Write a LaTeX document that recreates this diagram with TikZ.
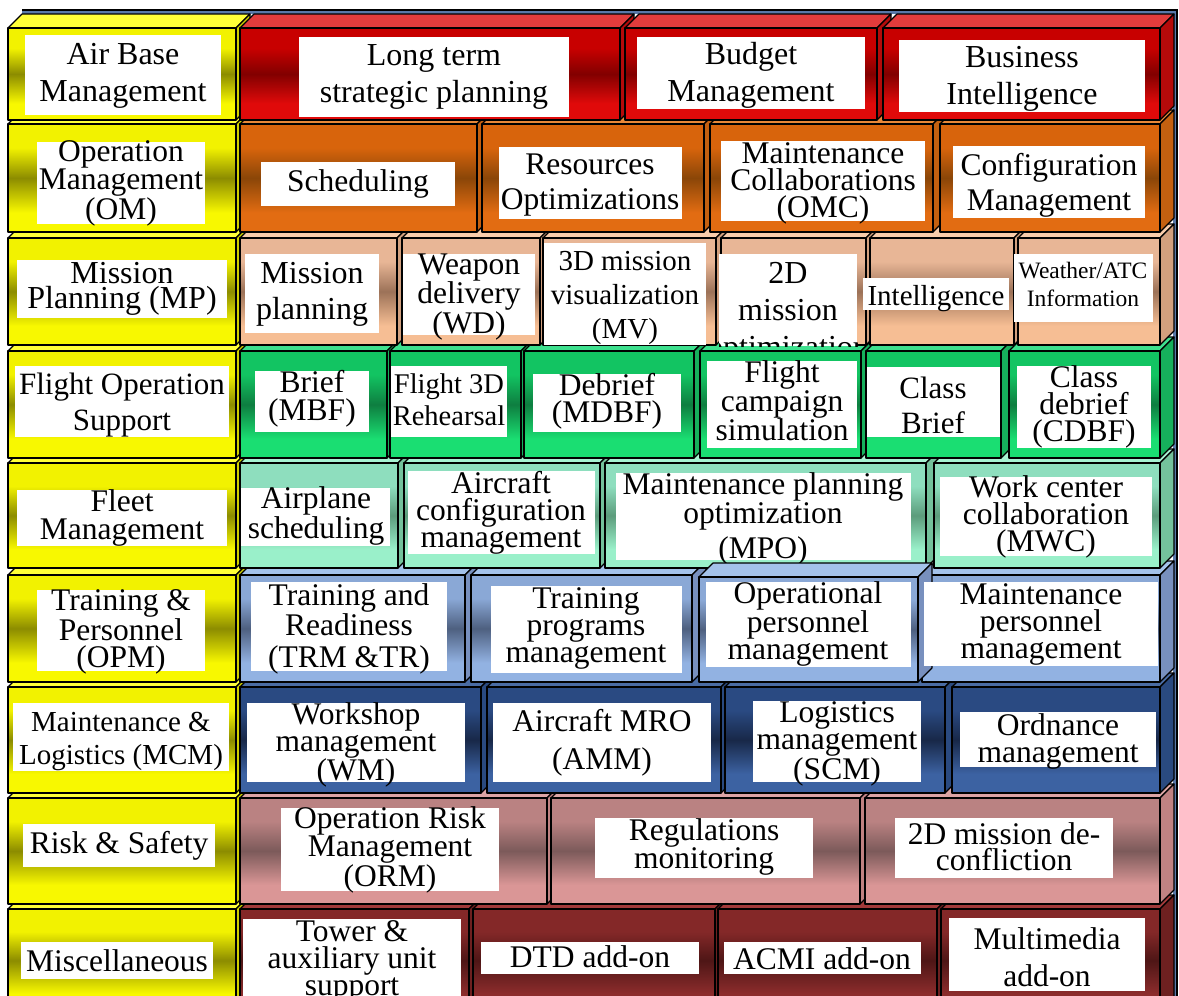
\documentclass[tikz,border=0pt]{standalone}
\usepackage{fontspec}
\setmainfont{Liberation Serif}
\usetikzlibrary{fit}

% ---------- palette: top / middle / bottom of each bevelled front, plus top and side faces
\definecolor{yelT}{HTML}{F2F200}\definecolor{yelM}{HTML}{8C8C00}\definecolor{yelB}{HTML}{F8F800}
\definecolor{yelTop}{HTML}{FFFF38}\definecolor{yelSide}{HTML}{D0D000}
\definecolor{redT}{HTML}{C80000}\definecolor{redM}{HTML}{820000}\definecolor{redB}{HTML}{E00A0A}
\definecolor{redTop}{HTML}{E23C3C}\definecolor{redSide}{HTML}{B50A0A}
\definecolor{orgT}{HTML}{D8640C}\definecolor{orgM}{HTML}{8A4608}\definecolor{orgB}{HTML}{E26C12}
\definecolor{orgTop}{HTML}{E88838}\definecolor{orgSide}{HTML}{C46010}
\definecolor{tanT}{HTML}{E8B696}\definecolor{tanM}{HTML}{9C7258}\definecolor{tanB}{HTML}{F6BE94}
\definecolor{tanTop}{HTML}{F8CCAA}\definecolor{tanSide}{HTML}{D2A07E}
\definecolor{grnT}{HTML}{12C462}\definecolor{grnM}{HTML}{0E7E40}\definecolor{grnB}{HTML}{1ADE72}
\definecolor{grnTop}{HTML}{3EE08E}\definecolor{grnSide}{HTML}{16B05C}
\definecolor{mntT}{HTML}{8EDEBE}\definecolor{mntM}{HTML}{5C9C7C}\definecolor{mntB}{HTML}{9AF0CA}
\definecolor{mntTop}{HTML}{A6F2D2}\definecolor{mntSide}{HTML}{74C29C}
\definecolor{stlT}{HTML}{8AA8D6}\definecolor{stlM}{HTML}{4E6080}\definecolor{stlB}{HTML}{92B2E2}
\definecolor{stlTop}{HTML}{A4C2EA}\definecolor{stlSide}{HTML}{7890BE}
\definecolor{navT}{HTML}{2A4A82}\definecolor{navM}{HTML}{182848}\definecolor{navB}{HTML}{3C62A2}
\definecolor{navTop}{HTML}{4A6CA4}\definecolor{navSide}{HTML}{2A4A80}
\definecolor{rosT}{HTML}{BA8282}\definecolor{rosM}{HTML}{7C5A5A}\definecolor{rosB}{HTML}{DA9696}
\definecolor{rosTop}{HTML}{DCA4A4}\definecolor{rosSide}{HTML}{C08282}
\definecolor{marT}{HTML}{842828}\definecolor{marM}{HTML}{4E1616}\definecolor{marB}{HTML}{8C2C2C}
\definecolor{marTop}{HTML}{A23A3A}\definecolor{marSide}{HTML}{6E2020}
\definecolor{frameblue}{HTML}{5878A8}

% metallic bevel: light at top and bottom, dark band in the middle
\newcommand\bevel[4]{\pgfdeclareverticalshading{#1}{100bp}{%
  color(0bp)=(#4); color(25bp)=(#4); color(34bp)=(#4); color(50bp)=(#3);
  color(64bp)=(#2); color(75bp)=(#2); color(100bp)=(#2)}}
\bevel{shYel}{yelT}{yelM}{yelB}
\bevel{shRed}{redT}{redM}{redB}
\bevel{shOrg}{orgT}{orgM}{orgB}
\bevel{shTan}{tanT}{tanM}{tanB}
\bevel{shGrn}{grnT}{grnM}{grnB}
\bevel{shMnt}{mntT}{mntM}{mntB}
\bevel{shStl}{stlT}{stlM}{stlB}
\bevel{shNav}{navT}{navM}{navB}
\bevel{shRos}{rosT}{rosM}{rosB}
\bevel{shMar}{marT}{marM}{marB}

\tikzset{
  face/.style={draw=black, line width=1.1pt, line join=round},
  frontface/.style={face, shade, inner sep=0pt, outer sep=0pt},
  wbox/.style={fill=white, inner sep=0pt, outer sep=0pt},
  txt/.style={align=center, inner sep=0pt, text=black},
}
\def\bdepth{14}
\newcommand\fz[2]{\fontsize{#1}{#2}\selectfont}

% block: name, x1, y1, x2, y2 (front face), shading, top-face colour, side-face colour
\newcommand\blk[8]{%
  \filldraw[face, fill=#7] (#2,#3) -- (#2+\bdepth,#3-\bdepth) -- (#4+\bdepth,#3-\bdepth) -- (#4,#3) -- cycle;
  \filldraw[face, fill=#8] (#4,#3) -- (#4+\bdepth,#3-\bdepth) -- (#4+\bdepth,#5-\bdepth) -- (#4,#5) -- cycle;
  \node[frontface, shading=#6, fit={(#2,#3) (#4,#5)}] (#1) {};
}
% white label: name, x1, y1, x2, y2, text centre x, y, font, text
\newcommand\lbl[9]{%
  \node[wbox, fit={(#2,#3) (#4,#5)}] (#1) {};
  \node[txt, font=#8] (#1-t) at (#6,#7) {#9};
}
% the same, with the text cut off at the edges of its white box
\newcommand\lblclip[9]{%
  \node[wbox, fit={(#2,#3) (#4,#5)}] (#1) {};
  \begin{scope}
    \clip (#1.north west) rectangle (#1.south east);
    \node[txt, font=#8] (#1-t) at (#6,#7) {#9};
  \end{scope}
}

\begin{document}
\begin{tikzpicture}[x=1pt,y=-1pt]
\fill[white] (0,0) rectangle (1179,996);
\useasboundingbox (0,0) rectangle (1179,996);

% outer frame
\fill[frameblue] (22,10) rectangle (1177,14);
\fill[frameblue] (1173,10) rectangle (1177,996);
\draw[line width=1.2pt] (22,10) -- (1177,10) -- (1177,996);

% rows are stacked from the bottom up so that each row hides the top faces below it

% ---- Miscellaneous
\blk{c9y}{8}{909}{236}{1012}{shYel}{yelTop}{yelSide}
\blk{c9a}{240}{909}{469}{1012}{shMar}{marTop}{marSide}
\blk{c9b}{473}{909}{715}{1012}{shMar}{marTop}{marSide}
\blk{c9c}{718}{909}{937}{1012}{shMar}{marTop}{marSide}
\blk{c9d}{941}{909}{1160}{1012}{shMar}{marTop}{marSide}
\lbl{t-ms}{21}{942}{213}{979}{117}{961}{\fz{31.5}{36}}{Miscellaneous}
\lbl{t-tw}{243}{919}{461}{1010}{352}{961}{\fz{31.5}{27}}{Tower \&\\auxiliary unit\\support}
\lbl{t-dtd}{481}{942}{699}{974}{590}{957}{\fz{31.5}{36}}{DTD add-on}
\lbl{t-acmi}{724}{942}{921}{974}{822}{959}{\fz{31.5}{36}}{ACMI add-on}
\lbl{t-mm}{949}{918}{1145}{991}{1047}{957}{\fz{31.5}{37}}{Multimedia\\add-on}

% ---- Risk & Safety
\blk{c8y}{8}{798}{236}{904}{shYel}{yelTop}{yelSide}
\blk{c8a}{240}{798}{547}{904}{shRos}{rosTop}{rosSide}
\blk{c8b}{551}{798}{860}{904}{shRos}{rosTop}{rosSide}
\blk{c8c}{865}{798}{1160}{904}{shRos}{rosTop}{rosSide}
\lbl{t-rs}{23}{824}{215}{867}{119}{846}{\fz{31.5}{36}}{Risk \& Safety}
\lbl{t-orm}{281}{808}{499}{891}{390}{850}{\fz{31.5}{27}}{Operation Risk\\Management\\(ORM)}
\lbl{t-rm}{595}{818}{813}{878}{704}{847}{\fz{31.5}{26}}{Regulations\\monitoring}
\lbl{t-dc}{895}{818}{1113}{878}{1004}{847}{\fz{31.5}{26}}{2D mission de-\\confliction}

% ---- Maintenance & Logistics
\blk{c7y}{8}{687}{236}{793}{shYel}{yelTop}{yelSide}
\blk{c7a}{240}{687}{481}{793}{shNav}{navTop}{navSide}
\blk{c7b}{487}{687}{721}{793}{shNav}{navTop}{navSide}
\blk{c7c}{725}{687}{945}{793}{shNav}{navTop}{navSide}
\blk{c7d}{952}{687}{1160}{793}{shNav}{navTop}{navSide}
\lbl{t-mcm}{13}{703}{229}{771}{121}{741}{\fz{29}{33}}{Maintenance \&\\Logistics (MCM)}
\lbl{t-ws}{247}{703}{465}{782}{356}{745}{\fz{31.5}{27}}{Workshop\\management\\(WM)}
\lbl{t-mro}{493}{703}{711}{782}{602}{743}{\fz{31.5}{38}}{Aircraft MRO\\(AMM)}
\lbl{t-lg}{753}{701}{921}{782}{837}{744}{\fz{31.5}{27}}{Logistics\\management\\(SCM)}
\lbl{t-od}{960}{712}{1156}{767}{1058}{741}{\fz{31.5}{27}}{Ordnance\\management}

% ---- Training & Personnel
\blk{c6y}{8}{575}{236}{682}{shYel}{yelTop}{yelSide}
\blk{c6a}{240}{575}{465}{682}{shStl}{stlTop}{stlSide}
\blk{c6b}{471}{575}{692}{682}{shStl}{stlTop}{stlSide}
\blk{c6d}{922}{575}{1160}{682}{shStl}{stlTop}{stlSide}
\lbl{t-op}{37}{590}{205}{671}{121}{632}{\fz{31.5}{27}}{Training \&\\Personnel\\(OPM)}
\lbl{t-tr}{251}{582}{447}{671}{349}{629}{\fz{31.5}{26}}{Training and\\Readiness\\[6pt](TRM \&TR)}
\lbl{t-tp}{491}{586}{682}{673}{586}{628}{\fz{31.5}{27}}{Training\\programs\\management}

% ---- Fleet Management
\blk{c5y}{8}{463}{236}{568}{shYel}{yelTop}{yelSide}
\blk{c5a}{240}{463}{398}{568}{shMnt}{mntTop}{mntSide}
\blk{c5b}{404}{463}{600}{568}{shMnt}{mntTop}{mntSide}
\blk{c5c}{605}{463}{926}{568}{shMnt}{mntTop}{mntSide}
\blk{c5d}{934}{463}{1160}{568}{shMnt}{mntTop}{mntSide}
\lbl{t-fl}{17}{490}{227}{546}{122}{518}{\fz{31.5}{28}}{Fleet\\Management}
\lbl{t-as}{241}{488}{390}{546}{316}{516}{\fz{31.5}{26}}{Airplane\\scheduling}
\lbl{t-ac}{408}{471}{595}{554}{501}{513}{\fz{31.5}{27}}{Aircraft\\configuration\\management}
\lbl{t-mpo}{616}{473}{911}{560}{763}{519}{\fz{31.5}{27}}{Maintenance planning\\optimization\\[6pt](MPO)}
\lbl{t-wc}{940}{477}{1152}{556}{1046}{517}{\fz{31.5}{27}}{Work center\\collaboration\\(MWC)}

% raised block standing in front of the fleet row
\blk{c6c}{699}{577}{918}{682}{shStl}{stlTop}{stlSide}
\lbl{t-opm}{706}{582}{911}{667}{808}{624}{\fz{31.5}{27}}{Operational\\personnel\\management}
\lbl{t-mpm}{924}{582}{1158}{666}{1041}{624}{\fz{31.5}{27}}{Maintenance\\personnel\\management}

% ---- Flight Operation Support
\blk{c4y}{8}{351}{236}{458}{shYel}{yelTop}{yelSide}
\blk{c4a}{240}{351}{387}{458}{shGrn}{grnTop}{grnSide}
\blk{c4b}{390}{351}{521}{458}{shGrn}{grnTop}{grnSide}
\blk{c4c}{524}{351}{694}{458}{shGrn}{grnTop}{grnSide}
\blk{c4d}{700}{351}{861}{458}{shGrn}{grnTop}{grnSide}
\blk{c4e}{866}{351}{1001}{458}{shGrn}{grnTop}{grnSide}
\blk{c4f}{1009}{351}{1160}{458}{shGrn}{grnTop}{grnSide}
\lbl{t-fo}{15}{366}{229}{437}{122}{405}{\fz{31}{36}}{Flight Operation\\Support}
\lbl{t-br}{255}{371}{369}{432}{312}{399}{\fz{31.5}{28}}{Brief\\(MBF)}
\lbl{t-f3}{391}{366}{507}{437}{449}{400}{\fz{28.5}{32}}{Flight 3D\\Rehearsal}
\lbl{t-db}{533}{374}{681}{432}{607}{401}{\fz{31.5}{27}}{Debrief\\(MDBF)}
\lbl{t-fc}{707}{361}{857}{448}{782}{401}{\fz{31.5}{26}}{Flight\\campaign\\simulation}
\lbl{t-cb}{867}{367}{1000}{437}{933}{405}{\fz{31}{35}}{Class\\Brief}
\lbl{t-cd}{1017}{366}{1151}{448}{1084}{407}{\fz{31.5}{27}}{Class\\debrief\\(CDBF)}

% ---- Mission Planning
\blk{c3y}{8}{238}{236}{345}{shYel}{yelTop}{yelSide}
\blk{c3a}{240}{238}{397}{345}{shTan}{tanTop}{tanSide}
\blk{c3b}{402}{238}{540}{345}{shTan}{tanTop}{tanSide}
\blk{c3c}{543}{238}{716}{345}{shTan}{tanTop}{tanSide}
\blk{c3d}{721}{238}{866}{345}{shTan}{tanTop}{tanSide}
\blk{c3e}{870}{238}{1014}{345}{shTan}{tanTop}{tanSide}
\blk{c3f}{1018}{238}{1160}{345}{shTan}{tanTop}{tanSide}
\lbl{t-mp}{17}{260}{227}{318}{122}{289}{\fz{32}{25}}{Mission\\Planning (MP)}
\lbl{t-mpl}{245}{254}{379}{333}{312}{294}{\fz{32}{36}}{Mission\\planning}
\lbl{t-wd}{403}{254}{535}{335}{469}{297}{\fz{31.5}{26}}{Weapon\\delivery\\(WD)}
\lbl{t-mv}{544}{243}{706}{345}{625}{298}{\fz{29}{34}}{3D mission\\visualization\\(MV)}
\lblclip{t-2d}{719}{254}{857}{346}{788}{313}{\fz{32}{37}}{2D\\mission\\optimization}
\lbl{t-in}{863}{278}{1009}{310}{936}{299}{\fz{29}{34}}{Intelligence}
\lbl{t-wa}{1014}{254}{1153}{322}{1083}{284}{\fz{23.5}{28}}{Weather/ATC\\Information}

% ---- Operation Management
\blk{c2y}{8}{124}{236}{232}{shYel}{yelTop}{yelSide}
\blk{c2a}{240}{124}{477}{232}{shOrg}{orgTop}{orgSide}
\blk{c2b}{482}{124}{704}{232}{shOrg}{orgTop}{orgSide}
\blk{c2c}{710}{124}{933}{232}{shOrg}{orgTop}{orgSide}
\blk{c2d}{940}{124}{1160}{232}{shOrg}{orgTop}{orgSide}
\lbl{t-om}{37}{142}{205}{224}{121}{183}{\fz{31.5}{27}}{Operation\\Management\\(OM)}
\lbl{t-sc}{261}{162}{455}{206}{358}{184}{\fz{31.5}{35}}{Scheduling}
\lbl{t-ro}{499}{147}{682}{219}{590}{185}{\fz{31.5}{35}}{Resources\\Optimizations}
\lbl{t-mc}{721}{141}{925}{221}{823}{183}{\fz{31.5}{27}}{Maintenance\\Collaborations\\(OMC)}
\lbl{t-cm}{953}{146}{1145}{218}{1049}{185}{\fz{31.5}{35}}{Configuration\\Management}

% ---- Air Base Management
\blk{c1y}{8}{28}{236}{120}{shYel}{yelTop}{yelSide}
\blk{c1a}{240}{28}{620}{120}{shRed}{redTop}{redSide}
\blk{c1b}{625}{28}{877}{120}{shRed}{redTop}{redSide}
\blk{c1c}{883}{28}{1160}{120}{shRed}{redTop}{redSide}
\lbl{t-ab}{25}{35}{221}{115}{123}{76}{\fz{32}{37}}{Air Base\\Management}
\lbl{t-lt}{299}{37}{569}{117}{434}{77}{\fz{32}{37}}{Long term\\strategic planning}
\lbl{t-bm}{637}{37}{865}{109}{751}{75}{\fz{32}{37}}{Budget\\Management}
\lbl{t-bi}{899}{40}{1145}{112}{1022}{79}{\fz{32}{37}}{Business\\Intelligence}
\end{tikzpicture}
\end{document}
